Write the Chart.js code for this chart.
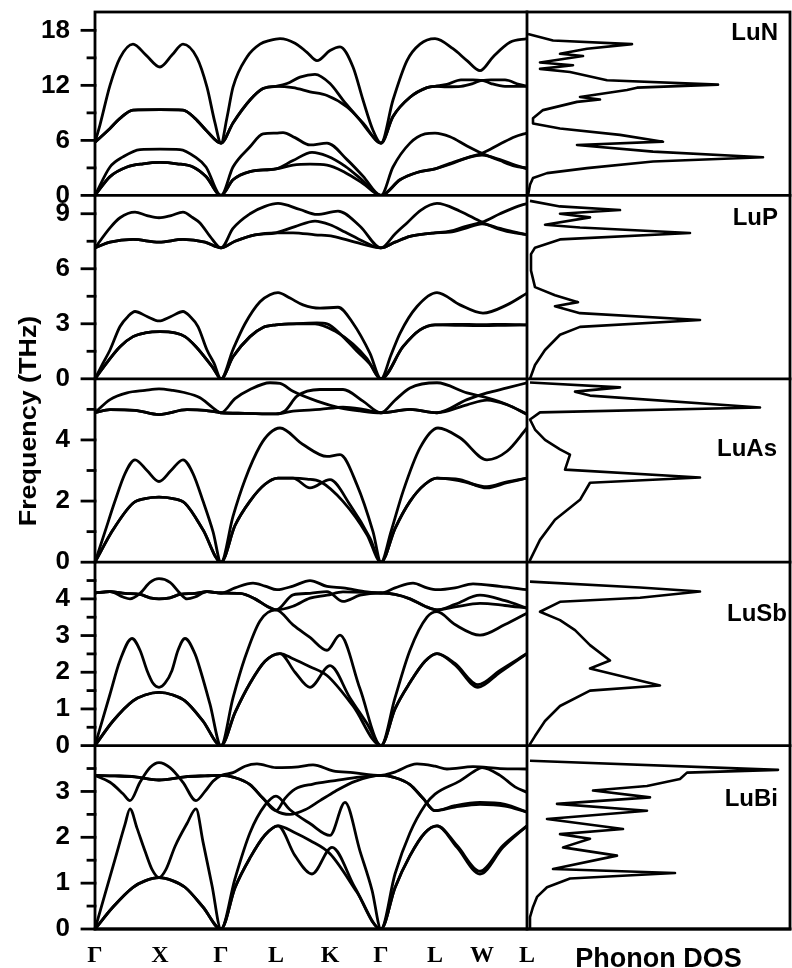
<!DOCTYPE html>
<html><head><meta charset="utf-8">
<script src="https://cdn.jsdelivr.net/npm/chart.js@4/dist/chart.umd.min.js"></script>
<style>html,body{margin:0;padding:0;background:#fff}#wrap{width:792px;height:968px;position:relative}</style>
</head><body><div id="wrap"><canvas id="c" width="792" height="968"></canvas></div>
<script>
// ---------- path / axes ----------
const kPos = [0, 65, 126, 181, 235, 286, 340, 387, 432];
const kLabels = ['Γ', 'X', 'Γ', 'L', 'K', 'Γ', 'L', 'W', 'L'];
const dosMax = 263;
const panelNames = ['LuN', 'LuP', 'LuAs', 'LuSb', 'LuBi'];
const yMax = [20, 10, 6, 5, 4];
const yMajor = [6, 3, 2, 1, 1];
const yMinor = [3, 1.5, 1, 0.5, 0.5];
const labelAt = [17.7, 8.74, 3.68, 3.59, 2.82];
const labelInset = [12, 12, 13, 3, 12];

// ---------- LuN ----------
const LuN_A1 = [[0,0],[15,2.05],[32,3.1],[48,3.45],[65,3.6],[82,3.45],[98,3.1],[111,2.05],[126,0],[138,1.7],[155,2.6],[181,2.9],[198,3.3],[215,3.4],[232,3.3],[250,2.5],[268,1.3],[286,0],[305,1.7],[322,2.5],[340,2.9],[355,3.4],[372,4.1],[387,4.6],[405,5.6],[420,6.4],[432,6.8]];
const LuN_A2 = [[0,0],[15,2.05],[32,3.1],[48,3.45],[65,3.6],[82,3.45],[98,3.1],[111,2.05],[126,0],[138,1.7],[155,2.6],[181,2.9],[198,3.8],[217,4.7],[232,4.3],[250,3.2],[268,1.6],[286,0],[305,1.7],[322,2.5],[340,2.9],[355,3.5],[372,4.1],[387,4.4],[405,3.9],[420,3.3],[432,2.9]];
const LuN_A3 = [[0,0],[15,3.1],[28,4.2],[45,5.0],[65,5.05],[85,5.0],[100,4.2],[111,3.1],[126,0],[138,3.1],[155,5.3],[168,6.7],[181,6.8],[188,6.85],[200,6.3],[215,5.5],[232,5.7],[252,3.9],[268,2.1],[286,0],[298,3.1],[315,5.7],[330,6.7],[340,6.8],[355,6.4],[372,5.4],[387,4.6],[405,3.8],[420,3.2],[432,3.0]];
const LuN_O1 = [[0,5.8],[15,7.3],[25,8.4],[38,9.3],[65,9.35],[88,9.3],[100,8.4],[112,7.0],[126,5.7],[138,7.9],[155,10.4],[168,11.65],[181,11.9],[198,11.75],[215,11.3],[232,10.9],[252,9.65],[268,7.9],[286,5.7],[298,8.6],[315,10.7],[332,11.75],[340,11.9],[352,11.85],[366,11.9],[378,12.2],[387,12.55],[396,12.2],[410,11.9],[432,11.9]];
const LuN_O2 = [[0,5.8],[15,7.3],[25,8.4],[38,9.3],[65,9.35],[88,9.3],[100,8.4],[112,7.0],[126,5.7],[138,7.9],[155,10.4],[168,11.65],[181,11.9],[192,12.2],[205,12.9],[220,13.2],[235,12.2],[248,10.4],[265,8.2],[278,6.4],[286,5.7],[298,8.6],[315,10.7],[332,11.75],[340,11.9],[352,12.1],[366,12.6],[378,12.6],[387,12.55],[396,12.6],[410,12.6],[424,12.1],[432,11.9]];
const LuN_O3 = [[0,5.8],[5,7.7],[15,12.0],[25,15.0],[38,16.5],[51,15.3],[65,14.0],[77,15.3],[88,16.5],[102,15.0],[112,11.8],[120,7.9],[126,5.7],[132,8.5],[138,11.8],[152,15.1],[165,16.5],[175,16.9],[185,17.1],[200,16.6],[212,15.6],[222,14.7],[235,15.8],[245,16.2],[258,14.0],[268,10.4],[278,7.1],[286,5.7],[298,10.4],[312,14.7],[325,16.5],[340,17.1],[358,16.0],[372,14.7],[385,13.6],[398,15.1],[415,16.7],[432,17.1]];
const LuN_DOS = [[1,0],[3,1.16],[6,1.89],[20,2.43],[60,2.97],[126,3.69],[236,4.16],[126,4.77],[50,5.5],[136,5.86],[93,6.6],[33,7.3],[6,7.85],[6,8.4],[16,9.3],[50,10.2],[73,10.45],[53,10.74],[100,11.5],[110,11.75],[191,12.08],[80,12.55],[43,13.45],[13,13.8],[46,14.2],[13,14.5],[56,15.2],[33,15.44],[60,16.0],[105,16.5],[26,16.9],[1,17.6]];

// ---------- LuP ----------
const LuP_A1 = [[0,0],[8,0.6],[25,1.75],[38,2.3],[50,2.5],[65,2.57],[80,2.5],[90,2.3],[101,1.75],[118,0.6],[126,0],[138,1.2],[155,2.3],[168,2.8],[181,2.94],[198,3.0],[220,3.0],[240,2.6],[258,1.9],[272,1.1],[286,0],[308,1.75],[325,2.67],[340,2.94],[360,2.97],[387,2.95],[410,2.97],[432,2.94]];
const LuP_A2 = [[0,0],[8,0.6],[25,1.75],[38,2.3],[50,2.5],[65,2.57],[80,2.5],[90,2.3],[101,1.75],[118,0.6],[126,0],[138,1.2],[155,2.3],[168,2.8],[181,2.94],[198,3.0],[222,3.05],[232,3.0],[248,2.3],[262,1.5],[275,0.8],[286,0],[308,1.75],[325,2.67],[340,2.94],[360,2.92],[387,2.9],[410,2.92],[432,2.94]];
const LuP_A3 = [[0,0],[8,0.85],[15,1.57],[25,2.85],[33,3.4],[40,3.67],[52,3.4],[64,3.16],[76,3.4],[88,3.67],[95,3.4],[103,2.85],[112,1.57],[119,0.85],[126,0],[138,1.6],[150,3.0],[165,4.2],[175,4.58],[183,4.7],[195,4.4],[208,4.03],[225,3.85],[243,3.9],[258,3.03],[275,1.39],[286,0],[296,1.3],[305,2.48],[322,3.94],[342,4.7],[365,4.03],[388,3.58],[412,4.03],[432,4.67]];
const LuP_O1 = [[0,7.14],[15,7.45],[38,7.6],[64,7.45],[88,7.6],[110,7.45],[126,7.14],[140,7.5],[160,7.85],[181,7.96],[198,7.96],[220,7.85],[238,7.77],[260,7.45],[286,7.14],[300,7.45],[315,7.77],[330,7.9],[340,7.96],[355,8.0],[370,8.2],[387,8.45],[405,8.2],[420,8.0],[432,7.86]];
const LuP_O2 = [[0,7.14],[15,7.45],[38,7.6],[64,7.45],[88,7.6],[110,7.45],[126,7.14],[140,7.5],[160,7.85],[181,7.96],[200,8.3],[220,8.6],[235,8.4],[250,8.0],[268,7.5],[286,7.14],[300,7.45],[315,7.77],[330,7.9],[340,7.96],[355,8.05],[370,8.3],[387,8.54],[405,9.0],[420,9.35],[432,9.56]];
const LuP_O3 = [[0,7.14],[15,8.23],[25,8.78],[40,9.09],[52,8.9],[64,8.78],[76,8.9],[88,9.09],[98,8.78],[105,8.5],[115,7.77],[126,7.14],[138,8.2],[155,9.0],[170,9.4],[183,9.56],[205,9.23],[222,8.96],[243,9.14],[265,8.32],[286,7.14],[300,7.9],[312,8.5],[326,9.2],[342,9.56],[365,9.14],[387,8.54],[405,8.15],[420,7.95],[432,7.86]];
const LuP_DOS = [[3,0],[8,0.75],[18,1.57],[33,2.4],[53,2.83],[173,3.21],[53,3.58],[28,3.96],[51,4.18],[28,4.56],[8,5.0],[4,5.9],[4,6.8],[8,7.15],[33,7.6],[163,7.95],[53,8.25],[18,8.4],[63,8.8],[33,9.0],[93,9.2],[33,9.4],[3,9.7]];

// ---------- LuAs ----------
const LuAs_A1 = [[0,0],[18,1.06],[38,1.93],[50,2.08],[64,2.13],[78,2.08],[90,1.93],[108,1.06],[126,0],[140,1.2],[155,2.0],[170,2.55],[183,2.75],[198,2.75],[215,2.43],[235,2.7],[255,1.88],[275,0.79],[286,0],[300,1.1],[315,1.99],[330,2.55],[342,2.75],[365,2.7],[392,2.43],[412,2.6],[432,2.75]];
const LuAs_A2 = [[0,0],[18,1.06],[38,1.93],[50,2.08],[64,2.13],[78,2.08],[90,1.93],[108,1.06],[126,0],[140,1.2],[155,2.0],[170,2.55],[183,2.75],[198,2.75],[212,2.72],[225,2.64],[248,1.99],[272,0.9],[286,0],[300,1.1],[315,1.99],[330,2.55],[342,2.75],[365,2.66],[392,2.47],[412,2.63],[432,2.75]];
const LuAs_A3 = [[0,0],[10,1.0],[20,2.0],[30,2.9],[40,3.35],[52,3.0],[64,2.64],[76,3.0],[88,3.35],[98,2.9],[108,2.0],[118,1.0],[126,0],[138,1.5],[150,2.7],[165,3.8],[175,4.23],[185,4.39],[208,3.85],[232,3.46],[245,3.52],[262,2.53],[278,1.0],[286,0],[296,1.0],[308,2.31],[325,3.74],[343,4.39],[365,4.07],[392,3.35],[412,3.63],[432,4.39]];
const LuAs_O1 = [[0,4.89],[15,4.99],[40,4.97],[64,4.83],[92,4.99],[110,4.97],[126,4.89],[150,4.87],[181,4.85],[198,4.94],[225,5.0],[248,5.07],[268,5.0],[286,4.89],[315,5.0],[342,4.89],[372,5.15],[392,5.3],[412,5.15],[432,4.85]];
const LuAs_O2 = [[0,4.89],[15,4.99],[40,4.97],[64,4.83],[92,4.99],[110,4.97],[126,4.89],[150,4.87],[181,4.85],[190,4.95],[202,5.43],[225,5.65],[248,5.65],[268,5.27],[286,4.89],[315,5.0],[342,4.89],[372,5.32],[392,5.54],[412,5.7],[432,5.87]];
const LuAs_O3 = [[0,4.89],[15,5.32],[32,5.54],[50,5.62],[64,5.67],[78,5.62],[88,5.56],[105,5.38],[118,5.05],[126,4.89],[140,5.35],[155,5.65],[175,5.87],[185,5.85],[198,5.59],[222,5.27],[245,5.05],[265,4.95],[286,4.89],[300,5.3],[315,5.7],[342,5.87],[372,5.54],[392,5.38],[412,5.16],[432,4.83]];
const LuAs_DOS = [[3,0],[3,0.07],[13,0.73],[28,1.39],[53,2.04],[63,2.6],[173,2.77],[38,3.03],[43,3.52],[33,3.69],[18,4.0],[8,4.34],[3,4.67],[13,4.9],[233,5.06],[63,5.45],[48,5.58],[93,5.72],[3,5.88]];

// ---------- LuSb ----------
const LuSb_A1 = [[0,0],[18,0.67],[38,1.22],[50,1.38],[64,1.45],[78,1.38],[90,1.22],[108,0.67],[126,0],[140,0.9],[155,1.7],[170,2.3],[185,2.51],[200,2.0],[215,1.59],[235,2.18],[255,1.3],[272,0.6],[286,0],[300,1.0],[315,1.72],[330,2.3],[342,2.51],[360,2.2],[383,1.59],[405,2.0],[432,2.51]];
const LuSb_A2 = [[0,0],[18,0.67],[38,1.22],[50,1.38],[64,1.45],[78,1.38],[90,1.22],[108,0.67],[126,0],[140,0.9],[155,1.7],[170,2.3],[185,2.51],[198,2.37],[215,2.15],[232,1.91],[258,1.08],[286,0],[300,1.0],[315,1.72],[330,2.3],[342,2.51],[360,2.24],[383,1.66],[405,2.05],[432,2.51]];
const LuSb_A3 = [[0,0],[8,0.75],[15,1.4],[25,2.32],[37,2.92],[45,2.6],[52,2.05],[58,1.7],[64,1.59],[70,1.7],[77,2.05],[83,2.6],[90,2.92],[100,2.5],[106,2.0],[115,1.13],[126,0],[138,1.3],[150,2.4],[165,3.4],[181,3.7],[198,3.29],[215,2.95],[232,2.6],[245,3.01],[265,1.55],[286,0],[300,1.3],[315,2.6],[332,3.5],[342,3.65],[360,3.3],[385,3.01],[410,3.3],[432,3.61]];
const LuSb_O1 = [[0,4.16],[15,4.2],[30,4.15],[45,4.12],[55,4.03],[64,4.0],[75,4.03],[85,4.12],[100,4.15],[112,4.2],[126,4.16],[145,4.15],[160,4.0],[172,3.8],[181,3.7],[198,3.8],[215,4.02],[232,4.1],[248,4.19],[270,4.18],[286,4.16],[300,4.12],[315,4.0],[330,3.8],[342,3.7],[360,3.85],[385,4.1],[410,3.95],[432,3.75]];
const LuSb_O2 = [[0,4.16],[15,4.2],[30,4.15],[45,4.12],[55,4.03],[64,4.0],[75,4.03],[85,4.12],[100,4.15],[112,4.2],[126,4.16],[145,4.15],[160,4.0],[172,3.8],[181,3.7],[198,4.11],[215,4.15],[232,4.2],[248,3.93],[265,4.1],[286,4.16],[300,4.12],[315,4.0],[330,3.8],[342,3.7],[360,3.78],[385,3.88],[410,3.82],[432,3.75]];
const LuSb_O3 = [[0,4.16],[15,4.2],[28,4.05],[35,4.0],[45,4.15],[55,4.45],[64,4.55],[75,4.45],[85,4.15],[92,4.0],[100,4.05],[112,4.2],[126,4.16],[140,4.3],[158,4.43],[170,4.35],[182,4.25],[198,4.35],[215,4.5],[232,4.34],[248,4.3],[272,4.19],[286,4.16],[300,4.3],[318,4.43],[332,4.3],[342,4.25],[360,4.3],[378,4.41],[405,4.34],[432,4.25]];
const LuSb_DOS = [[3,0],[3,0.04],[8,0.26],[18,0.67],[33,1.08],[63,1.5],[133,1.64],[63,2.1],[83,2.32],[63,2.74],[48,3.15],[33,3.42],[13,3.65],[33,3.92],[113,4.03],[173,4.2],[113,4.31],[3,4.47]];

// ---------- LuBi ----------
const LuBi_A1 = [[0,0],[18,0.48],[38,0.91],[50,1.05],[64,1.12],[78,1.05],[90,0.91],[108,0.48],[126,0],[140,0.9],[155,1.55],[170,2.05],[183,2.25],[200,1.6],[217,1.2],[237,1.78],[260,0.9],[286,0],[300,0.9],[315,1.6],[330,2.1],[342,2.25],[362,1.78],[385,1.2],[408,1.78],[432,2.25]];
const LuBi_A2 = [[0,0],[18,0.48],[38,0.91],[50,1.05],[64,1.12],[78,1.05],[90,0.91],[108,0.48],[126,0],[140,0.9],[155,1.55],[170,2.05],[183,2.25],[200,2.1],[215,1.93],[235,1.64],[262,0.8],[286,0],[300,0.9],[315,1.6],[330,2.1],[342,2.25],[362,1.82],[385,1.26],[408,1.82],[432,2.25]];
const LuBi_A3 = [[0,0],[10,0.76],[20,1.52],[30,2.28],[35,2.62],[42,2.2],[50,1.7],[57,1.3],[64,1.12],[71,1.3],[80,1.8],[92,2.3],[101,2.62],[108,1.9],[117,0.95],[126,0],[140,1.1],[155,2.1],[170,2.7],[181,2.9],[195,2.6],[215,2.3],[235,2.04],[250,2.76],[265,1.7],[277,0.85],[286,0],[300,1.2],[315,2.1],[330,2.7],[340,2.94],[365,3.23],[380,3.45],[387,3.52],[405,3.35],[420,3.1],[432,2.98]];
const LuBi_O1 = [[0,3.35],[20,3.34],[40,3.32],[64,3.25],[90,3.32],[110,3.34],[126,3.35],[140,3.3],[155,3.15],[168,2.85],[181,2.58],[195,2.5],[210,2.6],[225,2.8],[240,3.0],[260,3.22],[286,3.35],[300,3.3],[315,3.15],[328,2.85],[340,2.58],[360,2.69],[385,2.76],[410,2.72],[432,2.55]];
const LuBi_O2 = [[0,3.35],[20,3.34],[40,3.32],[64,3.25],[90,3.32],[110,3.34],[126,3.35],[140,3.3],[155,3.15],[168,2.85],[181,2.58],[190,2.85],[200,3.05],[218,3.16],[238,3.23],[260,3.3],[286,3.35],[300,3.3],[315,3.15],[328,2.85],[340,2.58],[360,2.66],[385,2.72],[410,2.68],[432,2.55]];
const LuBi_O3 = [[0,3.35],[15,3.2],[28,2.95],[35,2.8],[45,3.2],[55,3.52],[64,3.63],[75,3.52],[88,3.2],[101,2.8],[110,3.0],[118,3.22],[126,3.35],[138,3.41],[150,3.55],[162,3.6],[181,3.52],[200,3.53],[218,3.58],[238,3.45],[258,3.41],[286,3.35],[298,3.41],[322,3.6],[340,3.55],[352,3.49],[378,3.54],[405,3.5],[432,3.49]];
const LuBi_DOS = [[3,0],[3,0.26],[6,0.48],[10,0.7],[20,0.91],[43,1.1],[148,1.22],[26,1.31],[90,1.6],[36,1.78],[63,1.97],[33,2.07],[96,2.18],[20,2.4],[120,2.58],[30,2.73],[123,2.87],[66,3.02],[120,3.12],[153,3.27],[160,3.41],[251,3.47],[3,3.67]];

const branchSets = [
  [LuN_A1, LuN_A2, LuN_A3, LuN_O1, LuN_O2, LuN_O3],
  [LuP_A1, LuP_A2, LuP_A3, LuP_O1, LuP_O2, LuP_O3],
  [LuAs_A1, LuAs_A2, LuAs_A3, LuAs_O1, LuAs_O2, LuAs_O3],
  [LuSb_A1, LuSb_A2, LuSb_A3, LuSb_O1, LuSb_O2, LuSb_O3],
  [LuBi_A1, LuBi_A2, LuBi_A3, LuBi_O1, LuBi_O2, LuBi_O3]
];
const dosSets = [LuN_DOS, LuP_DOS, LuAs_DOS, LuSb_DOS, LuBi_DOS];

// ---------- build chart ----------
const SANS = '"Liberation Sans", Arial, Helvetica, sans-serif';
const SERIF = '"Liberation Serif", "Times New Roman", serif';
const isMajor = (v, i) => Math.abs(v / yMajor[i] - Math.round(v / yMajor[i])) < 1e-6;
const noPad = s => { s.paddingTop = 0; s.paddingBottom = 0; s.paddingLeft = 0; s.paddingRight = 0; };

const datasets = [];
branchSets.forEach((branches, i) => {
  branches.forEach(b => datasets.push({
    data: b.map(([x, y]) => ({x, y})), xAxisID: 'x', yAxisID: 'y' + i,
    borderColor: '#000', borderWidth: 2.8, pointRadius: 0, fill: false,
    cubicInterpolationMode: 'monotone'
  }));
  datasets.push({
    data: dosSets[i].map(([x, y]) => ({x, y})), xAxisID: 'xd', yAxisID: 'y' + i,
    borderColor: '#000', borderWidth: 2.6, pointRadius: 0, fill: false, tension: 0,
    borderJoinStyle: 'round'
  });
});

const scales = {
  x: {
    type: 'linear', position: 'bottom', stack: 'bx', stackWeight: kPos[kPos.length - 1], weight: 0,
    min: 0, max: kPos[kPos.length - 1],
    afterBuildTicks: s => { s.ticks = kPos.map(v => ({value: v})); },
    afterFit: s => { s.height = 39; noPad(s); },
    grid: {display: false, drawTicks: false}, border: {display: false},
    ticks: {autoSkip: false, maxRotation: 0, color: '#000', padding: 12,
      font: {family: SERIF, size: 24, weight: 'bold'},
      callback: (v, i) => kLabels[i]}
  },
  xd: {
    type: 'linear', position: 'bottom', stack: 'bx', stackWeight: dosMax, weight: 1,
    min: 0, max: dosMax,
    afterFit: s => { s.height = 39; noPad(s); },
    grid: {display: false, drawTicks: false}, border: {display: false},
    ticks: {display: false},
    title: {display: true, text: 'Phonon DOS', color: '#000', padding: {top: 0, bottom: 0},
      font: {family: SANS, size: 27, weight: 'bold', lineHeight: 0.6}}
  }
};
panelNames.forEach((name, i) => {
  scales['y' + i] = {
    type: 'linear', position: 'left', stack: 'ly', stackWeight: 1, weight: 10 - i,
    min: 0, max: yMax[i],
    afterBuildTicks: s => {
      const t = [];
      for (let k = 0; k * yMinor[i] < yMax[i] - 1e-9; k++) t.push({value: Math.round(k * yMinor[i] * 100) / 100});
      s.ticks = t;
    },
    afterFit: s => { s.width = 95; noPad(s); },
    grid: {display: false, drawTicks: false}, border: {display: false},
    ticks: {autoSkip: false, color: '#000', padding: 25,
      font: {family: SANS, size: 26, weight: 'bold'},
      callback: v => isMajor(v, i) ? String(v) : ''}
  };
});

const framePlugin = {
  id: 'frames',
  afterDatasetsDraw(chart) {
    const {ctx, chartArea: a, scales: s} = chart;
    ctx.save();
    ctx.strokeStyle = '#000';
    ctx.lineWidth = 2.8;
    ctx.lineCap = 'square';
    ctx.strokeRect(a.left, a.top, a.right - a.left, a.bottom - a.top);
    ctx.beginPath(); ctx.moveTo(s.x.right, a.top); ctx.lineTo(s.x.right, a.bottom); ctx.stroke();
    panelNames.forEach((name, i) => {
      const ys = s['y' + i];
      ctx.beginPath(); ctx.moveTo(a.left, ys.bottom); ctx.lineTo(a.right, ys.bottom); ctx.stroke();
      ys.ticks.forEach(t => {
        const y = ys.getPixelForValue(t.value);
        const len = isMajor(t.value, i) ? 13 : 7;
        ctx.beginPath(); ctx.moveTo(a.left - len, y); ctx.lineTo(a.left, y); ctx.stroke();
      });
      ctx.fillStyle = '#000';
      ctx.font = 'bold 24px ' + SANS;
      ctx.textAlign = 'right';
      ctx.textBaseline = 'middle';
      ctx.fillText(name, s.xd.right - labelInset[i], ys.getPixelForValue(labelAt[i]));
    });
    ctx.translate(36, 421);
    ctx.rotate(-Math.PI / 2);
    ctx.scale(1.12, 1);
    ctx.font = 'bold 24px ' + SANS;
    ctx.textAlign = 'center';
    ctx.textBaseline = 'alphabetic';
    ctx.fillText('Frequency (THz)', 0, 0);
    ctx.restore();
  }
};

new Chart(document.getElementById('c'), {
  type: 'line',
  data: {datasets},
  options: {
    responsive: false, animation: false, devicePixelRatio: 1,
    layout: {padding: {top: 12, right: 2, left: 0, bottom: 0}},
    plugins: {legend: {display: false}, tooltip: {enabled: false}},
    scales
  },
  plugins: [framePlugin]
});
</script>
</body></html>
